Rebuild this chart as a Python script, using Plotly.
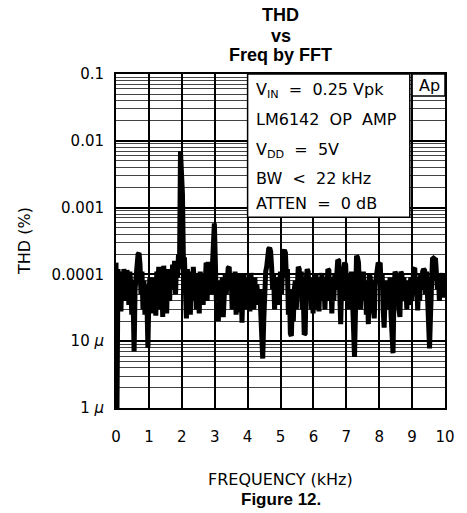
import plotly.graph_objects as go

# ---- data ----
freq_khz = [
    0.00, 0.03, 0.06, 0.09, 0.12, 0.15, 0.18, 0.21, 0.24, 0.27, 0.30, 0.33, 0.36, 0.39, 0.42, 0.45,
    0.48, 0.51, 0.55, 0.58, 0.61, 0.64, 0.67, 0.70, 0.73, 0.76, 0.79, 0.82, 0.85, 0.88, 0.91, 0.94,
    0.97, 1.00, 1.03, 1.06, 1.09, 1.12, 1.15, 1.18, 1.21, 1.24, 1.27, 1.30, 1.33, 1.36, 1.39, 1.42,
    1.45, 1.48, 1.51, 1.54, 1.57, 1.60, 1.63, 1.66, 1.69, 1.72, 1.75, 1.78, 1.81, 1.84, 1.87, 1.90,
    1.93, 1.96, 1.99, 2.02, 2.05, 2.08, 2.11, 2.14, 2.17, 2.20, 2.23, 2.26, 2.29, 2.32, 2.35, 2.38,
    2.41, 2.44, 2.47, 2.50, 2.53, 2.56, 2.59, 2.62, 2.65, 2.68, 2.71, 2.74, 2.77, 2.80, 2.83, 2.86,
    2.89, 2.92, 2.96, 2.99, 3.02, 3.05, 3.08, 3.11, 3.14, 3.17, 3.20, 3.23, 3.26, 3.29, 3.32, 3.35,
    3.38, 3.41, 3.44, 3.47, 3.50, 3.53, 3.56, 3.59, 3.62, 3.65, 3.68, 3.71, 3.74, 3.77, 3.80, 3.83,
    3.86, 3.89, 3.92, 3.95, 3.98, 4.01, 4.04, 4.07, 4.10, 4.13, 4.16, 4.19, 4.22, 4.25, 4.28, 4.31,
    4.34, 4.37, 4.40, 4.43, 4.46, 4.49, 4.52, 4.55, 4.58, 4.61, 4.64, 4.67, 4.70, 4.73, 4.76, 4.79,
    4.82, 4.85, 4.88, 4.91, 4.94, 4.97, 5.00, 5.03, 5.06, 5.09, 5.12, 5.15, 5.18, 5.21, 5.24, 5.27,
    5.30, 5.33, 5.36, 5.39, 5.42, 5.45, 5.48, 5.51, 5.54, 5.57, 5.60, 5.63, 5.66, 5.69, 5.72, 5.75,
    5.78, 5.81, 5.84, 5.87, 5.90, 5.93, 5.96, 5.99, 6.02, 6.05, 6.08, 6.11, 6.14, 6.17, 6.20, 6.23,
    6.26, 6.29, 6.32, 6.35, 6.38, 6.41, 6.44, 6.47, 6.50, 6.53, 6.56, 6.59, 6.62, 6.65, 6.68, 6.71,
    6.74, 6.77, 6.80, 6.83, 6.86, 6.89, 6.92, 6.95, 6.98, 7.01, 7.04, 7.07, 7.10, 7.13, 7.16, 7.19,
    7.22, 7.25, 7.28, 7.31, 7.34, 7.37, 7.40, 7.43, 7.46, 7.49, 7.52, 7.55, 7.58, 7.61, 7.64, 7.67,
    7.70, 7.73, 7.76, 7.79, 7.82, 7.85, 7.88, 7.91, 7.94, 7.97, 8.00, 8.03, 8.06, 8.09, 8.12, 8.15,
    8.18, 8.21, 8.24, 8.27, 8.30, 8.33, 8.36, 8.39, 8.42, 8.45, 8.48, 8.51, 8.54, 8.57, 8.60, 8.63,
    8.66, 8.69, 8.72, 8.75, 8.78, 8.81, 8.84, 8.87, 8.90, 8.93, 8.96, 8.99, 9.02, 9.05, 9.08, 9.11,
    9.14, 9.17, 9.20, 9.23, 9.26, 9.29, 9.32, 9.35, 9.38, 9.41, 9.44, 9.47, 9.50, 9.53, 9.56, 9.59,
    9.62, 9.65, 9.68, 9.71, 9.74, 9.77, 9.80, 9.83, 9.86, 9.89, 9.92, 9.95, 9.98, 10.00,
]
thd_pct = [
    1.5e-4, 1.0e-6, 1.2e-4, 5.5e-5, 6.5e-5, 2.8e-5, 1.1e-4, 6e-5, 1.2e-4, 9e-5, 4e-5, 1.15e-4, 1.0e-4, 3.5e-5, 1.1e-4, 7e-5,
    2.5e-5, 8e-5, 7e-6, 6e-5, 1.1e-4, 1.6e-4, 2.0e-4, 2.1e-4, 1.4e-4, 5e-5, 1.1e-4, 3e-5, 8e-5, 2.5e-5, 7e-5, 4e-5,
    8e-6, 5e-5, 9e-5, 6e-5, 2.6e-5, 8e-5, 4e-5, 9e-5, 2.4e-5, 1.1e-4, 7e-5, 1.3e-4, 3e-5, 1.25e-4, 9e-5, 2.3e-5,
    1.35e-4, 6e-5, 1.0e-4, 2.6e-5, 1.2e-4, 7e-5, 4e-5, 1.1e-4, 6e-5, 1.4e-4, 8e-5, 1.6e-4, 5e-5, 1.5e-4, 9e-5, 2.0e-4,
    1.2e-4, 7.0e-3, 2.8e-3, 1.6e-3, 1.5e-4, 1.8e-4, 6e-5, 2.2e-5, 1.2e-4, 5e-5, 9e-5, 2.5e-5, 1.1e-4, 4e-5, 1.3e-4, 7e-5,
    1.0e-4, 3e-5, 8e-5, 6e-5, 2.6e-5, 1.1e-4, 5e-5, 9e-5, 3.5e-5, 1.0e-4, 7e-5, 1.5e-4, 4e-5, 1.55e-4, 8e-5, 1.2e-4,
    5e-5, 9e-5, 2.0e-4, 5.8e-4, 1.5e-4, 4e-5, 7e-5, 2.0e-5, 6e-5, 8e-5, 4e-5, 9e-5, 2.3e-5, 7e-5, 1.0e-4, 5e-5,
    1.1e-4, 1.25e-4, 1.3e-4, 6e-5, 1.0e-4, 3e-5, 8e-5, 4e-5, 1.1e-4, 2.5e-5, 9e-5, 5e-5, 1.0e-4, 2.7e-5, 8e-5, 1.9e-5,
    7e-5, 1.0e-4, 4e-5, 8e-5, 3e-5, 9e-5, 6e-5, 2.8e-5, 1.05e-4, 5e-5, 8e-5, 3e-5, 9e-5, 4e-5, 7e-5, 5e-5,
    3.5e-5, 6e-5, 3e-5, 1.2e-5, 5.5e-6, 2e-5, 7e-5, 1.1e-4, 1.3e-4, 2.0e-4, 2.4e-4, 2.5e-4, 2.2e-4, 1.3e-4, 6e-5, 1.0e-4,
    3e-5, 8e-5, 4e-5, 9e-5, 3.5e-5, 7e-5, 1.1e-4, 5e-5, 1.4e-4, 2.2e-4, 2.3e-4, 2.1e-4, 9e-5, 1.2e-4, 2.5e-5, 6e-5,
    1.3e-5, 1.2e-5, 4e-5, 2.0e-5, 6e-5, 8e-5, 3e-5, 1.0e-4, 1.3e-4, 1.2e-4, 5e-5, 1.1e-4, 3e-5, 6e-5, 1.25e-5, 1.3e-5,
    8e-5, 1.2e-4, 1.1e-4, 5e-5, 9e-5, 3e-5, 7e-5, 2.6e-5, 8e-5, 4e-5, 1.0e-4, 3e-5, 7e-5, 2.8e-5, 9e-5, 5e-5,
    1.05e-4, 4e-5, 8e-5, 3e-5, 9e-5, 6e-5, 1.2e-4, 1.15e-4, 4e-5, 9e-5, 2.6e-5, 7e-5, 4e-5, 1.0e-4, 6e-5, 1.5e-4,
    1.65e-4, 1.6e-4, 5e-5, 1.8e-5, 8e-5, 4e-5, 1.2e-4, 1.5e-4, 1.4e-4, 6e-5, 1.0e-4, 3e-5, 8e-5, 5e-5, 1.1e-4, 4e-5,
    2e-5, 5.8e-6, 3e-5, 1.9e-4, 1.8e-4, 1.5e-4, 6e-5, 3e-5, 9e-5, 5e-5, 1.1e-4, 4e-5, 8e-5, 2.5e-5, 6e-5, 1.8e-5,
    1.0e-4, 9e-5, 4e-5, 8e-5, 3e-5, 2.2e-5, 7e-5, 1.0e-4, 1.3e-4, 1.5e-4, 1.4e-4, 1.5e-4, 6e-5, 1.0e-4, 3e-5, 1.6e-5,
    5e-5, 8e-5, 3e-5, 7e-5, 4e-5, 9e-5, 2.5e-5, 1.2e-5, 6.6e-6, 5e-5, 1.1e-4, 1.0e-4, 4e-5, 8e-5, 3e-5, 2.3e-5,
    1.1e-4, 1.0e-4, 5e-5, 9e-5, 4e-5, 7e-5, 3e-5, 8e-5, 3.5e-5, 6e-5, 9e-5, 4e-5, 1.0e-4, 1.2e-4, 1.25e-4, 6e-5,
    9e-5, 2.9e-5, 7e-5, 4e-5, 1.0e-4, 6e-5, 1.1e-4, 1.2e-4, 1.15e-4, 5e-5, 1.1e-4, 3e-5, 2e-5, 7.8e-6, 2.5e-5, 1.0e-4,
    1.7e-4, 1.75e-4, 1.7e-4, 1.75e-4, 1.2e-4, 6e-5, 1.0e-4, 4e-5, 9e-5, 5e-5, 1.05e-4, 4.5e-5, 1.0e-4, 6e-5,
]

x_ticks = [0, 1, 2, 3, 4, 5, 6, 7, 8, 9, 10]
y_tickvals = [1e-6, 1e-5, 1e-4, 1e-3, 1e-2, 1e-1]
y_ticktext = ["1 <i>µ</i>", "10 <i>µ</i>", "0.0001", "0.001", "0.01", "0.1"]

title_lines = ["THD", "vs", "Freq by FFT"]
x_title = "FREQUENCY (kHz)"
y_title = "THD (%)"
caption = "Figure 12."
box_lines = [
    "V<sub>IN</sub>\u00a0 = \u00a00.25 Vpk",
    "LM6142\u00a0 OP\u00a0 AMP",
    "V<sub>DD</sub>\u00a0 = \u00a05V",
    "BW\u00a0 < \u00a022 kHz",
    "ATTEN\u00a0 = \u00a00 dB",
]
ap_label = "Ap"

# ---- layout geometry ----
W, H = 467, 513
L, R, T, B = 116, 15, 74, 105
PH = H - T - B


def py(Y):
    """pixel row -> paper y"""
    return (H - B - Y) / PH


def px(X):
    """pixel column -> paper x"""
    return (X - L) / (W - L - R)


TICKFONT = dict(family="DejaVu Sans", size=15, color="black")
LABELFONT = dict(family="DejaVu Sans", size=16, color="black")
BOLD = dict(family="Liberation Sans, Arial", size=18, color="black", weight="bold")
CAPFONT = dict(family="Liberation Sans, Arial", size=17, color="black", weight="bold")

fig = go.Figure()
fig.add_trace(go.Scatter(
    x=freq_khz, y=thd_pct, mode="lines",
    line=dict(color="black", width=5),
    showlegend=False, hoverinfo="skip",
))

shapes = [
    dict(type="rect", xref="x", yref="y", x0=4.0, x1=8.93, y0=7.2e-4, y1=0.1,
         fillcolor="white", line=dict(color="black", width=1.5), layer="above"),
    dict(type="rect", xref="x", yref="y", x0=9.0, x1=10.0, y0=0.047, y1=0.1,
         fillcolor="white", line=dict(color="black", width=1.5), layer="above"),
]

annotations = []
for txt, Y in zip(title_lines, [15, 36, 55]):
    annotations.append(dict(text=txt, xref="paper", yref="paper", x=0.5, y=py(Y),
                            xanchor="center", yanchor="middle", showarrow=False, font=BOLD))
annotations.append(dict(text=x_title, xref="paper", yref="paper", x=0.5, y=py(479),
                        xanchor="center", yanchor="middle", showarrow=False, font=LABELFONT))
annotations.append(dict(text=caption, xref="paper", yref="paper", x=0.5, y=py(499),
                        xanchor="center", yanchor="middle", showarrow=False, font=CAPFONT))
annotations.append(dict(text=y_title, xref="paper", yref="paper", x=px(22), y=py(241),
                        xanchor="center", yanchor="middle", textangle=-90,
                        showarrow=False, font=LABELFONT))
for txt, Y in zip(box_lines, [90, 119, 150, 178, 203]):
    annotations.append(dict(text=txt, xref="paper", yref="paper", x=px(257), y=py(Y),
                            xanchor="left", yanchor="middle", showarrow=False, font=LABELFONT))
annotations.append(dict(text=ap_label, xref="paper", yref="paper", x=px(436), y=py(86),
                        xanchor="center", yanchor="middle", showarrow=False, font=LABELFONT))

fig.update_layout(
    width=W, height=H,
    margin=dict(l=L, r=R, t=T, b=B, pad=0),
    paper_bgcolor="white", plot_bgcolor="white",
    shapes=shapes, annotations=annotations,
    xaxis=dict(
        range=[0, 10], tickmode="array", tickvals=x_ticks,
        showgrid=True, gridcolor="black", gridwidth=2,
        showline=True, mirror=True, linecolor="black", linewidth=2,
        zeroline=False, ticks="", tickfont=TICKFONT, ticklabelstandoff=14,
    ),
    yaxis=dict(
        type="log", range=[-6, -1], tickmode="array",
        tickvals=y_tickvals, ticktext=y_ticktext,
        showgrid=True, gridcolor="black", gridwidth=2,
        minor=dict(dtick="D1", showgrid=True, gridcolor="#444", gridwidth=1, ticks=""),
        showline=True, mirror=True, linecolor="black", linewidth=2,
        zeroline=False, ticks="", tickfont=TICKFONT, ticklabelstandoff=7,
    ),
)

fig.write_html("out.html")
